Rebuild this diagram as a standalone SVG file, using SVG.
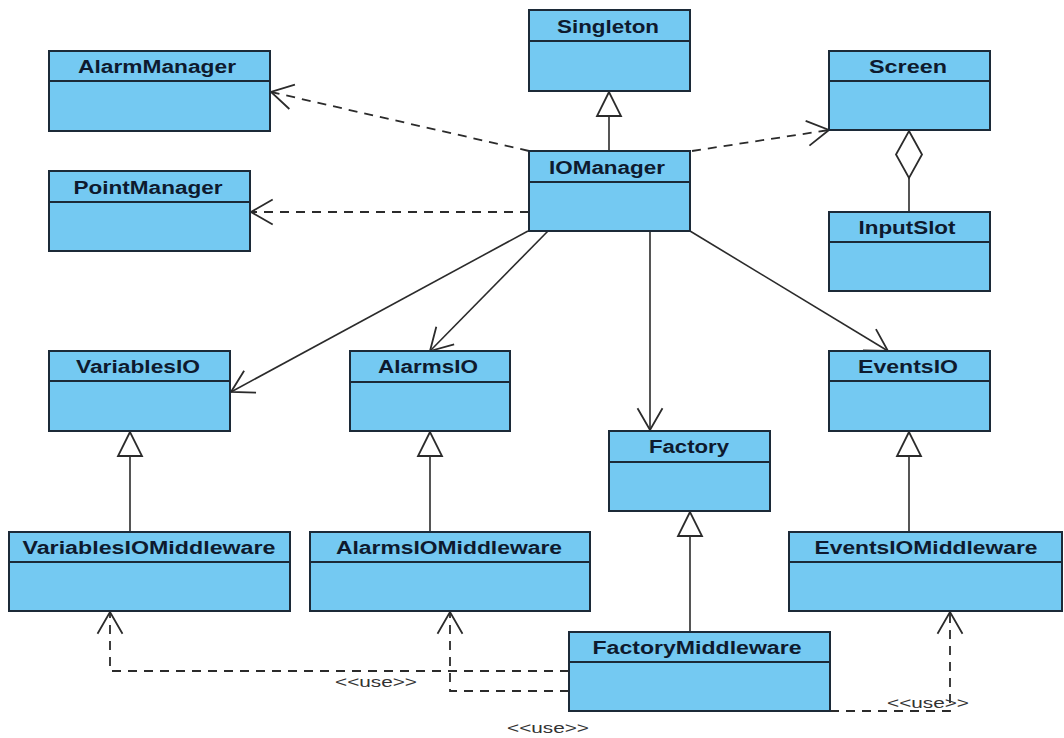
<svg xmlns="http://www.w3.org/2000/svg" width="1064" height="738" viewBox="0 0 1064 738">
  <style>
    .box { fill: #74c9f2; stroke: #1c2a38; stroke-width: 2; }
    .div { stroke: #1c2a38; stroke-width: 2; }
    .name { font-family: "Liberation Sans", Arial, sans-serif; font-weight: bold; font-size: 18px; fill: #0e1a2e; text-anchor: middle; }
    .solid { fill: none; stroke: #2b2b2b; stroke-width: 1.6; }
    .dash { fill: none; stroke: #2b2b2b; stroke-width: 1.8; stroke-dasharray: 9 7; }
    .stereo { font-family: "Liberation Sans", Arial, sans-serif; font-size: 15px; fill: #333; }
  </style>
  <defs>
    <!-- open arrowhead for associations and dependencies -->
    <marker id="open" markerUnits="userSpaceOnUse" viewBox="-26 -15 28 30" refX="0" refY="0" markerWidth="28" markerHeight="30" orient="auto" overflow="visible">
      <path d="M-21.7 -12.5 L0 0 L-21.7 12.5" fill="none" stroke="#2b2b2b" stroke-width="1.8"/>
    </marker>
    <!-- hollow triangle for generalization -->
    <marker id="gen" markerUnits="userSpaceOnUse" viewBox="-26 -14 28 28" refX="0" refY="0" markerWidth="28" markerHeight="28" orient="auto" overflow="visible">
      <path d="M0 0 L-24 -12 L-24 12 Z" fill="#fff" stroke="#2b2b2b" stroke-width="1.8"/>
    </marker>
    <!-- hollow diamond for aggregation -->
    <marker id="agg" markerUnits="userSpaceOnUse" viewBox="-2 -15 50 30" refX="0" refY="0" markerWidth="50" markerHeight="30" orient="auto" overflow="visible">
      <path d="M0 0 L23.5 -13 L47 0 L23.5 13 Z" fill="#fff" stroke="#2b2b2b" stroke-width="1.8"/>
    </marker>
  </defs>

  <!-- connectors -->
  <g id="connectors">
    <!-- generalizations -->
    <path class="solid" d="M609 151 L609 92" marker-end="url(#gen)"/>
    <path class="solid" d="M130 532 L130 432" marker-end="url(#gen)"/>
    <path class="solid" d="M430 532 L430 432" marker-end="url(#gen)"/>
    <path class="solid" d="M690 632 L690 512" marker-end="url(#gen)"/>
    <path class="solid" d="M909 532 L909 432" marker-end="url(#gen)"/>
    <!-- aggregation Screen <>- InputSlot -->
    <path class="solid" d="M909 131 L909 212" marker-start="url(#agg)"/>
    <!-- associations from IOManager -->
    <path class="solid" d="M528 231 L231 392" marker-end="url(#open)"/>
    <path class="solid" d="M548 231 L430 351" marker-end="url(#open)"/>
    <path class="solid" d="M650 231 L650 430" marker-end="url(#open)"/>
    <path class="solid" d="M690 231 L888 351" marker-end="url(#open)"/>
    <!-- dependencies from IOManager -->
    <path class="dash" d="M529 151 L271 92" marker-end="url(#open)"/>
    <path class="dash" d="M529 212 L251 212" marker-end="url(#open)"/>
    <path class="dash" d="M692 151 L829 130" marker-end="url(#open)"/>
    <!-- use dependencies from FactoryMiddleware -->
    <path class="dash" d="M569 671 L110 671 L110 612" marker-end="url(#open)"/>
    <path class="dash" d="M569 691 L450 691 L450 612" marker-end="url(#open)"/>
    <path class="dash" d="M830 711 L950 711 L950 612" marker-end="url(#open)"/>
    <text class="stereo" x="335" y="687" textLength="82" lengthAdjust="spacingAndGlyphs">&lt;&lt;use&gt;&gt;</text>
    <text class="stereo" x="507" y="733" textLength="82" lengthAdjust="spacingAndGlyphs">&lt;&lt;use&gt;&gt;</text>
    <text class="stereo" x="887" y="708" textLength="82" lengthAdjust="spacingAndGlyphs">&lt;&lt;use&gt;&gt;</text>
  </g>

  <!-- classes -->
  <g id="Singleton">
    <rect class="box" x="529" y="10" width="161" height="81"/>
    <line class="div" x1="529" y1="41" x2="690" y2="41"/>
    <text class="name" x="608" y="33" textLength="102" lengthAdjust="spacingAndGlyphs">Singleton</text>
  </g>
  <g id="AlarmManager">
    <rect class="box" x="49" y="51" width="221" height="80"/>
    <line class="div" x1="49" y1="81" x2="270" y2="81"/>
    <text class="name" x="157" y="73" textLength="158" lengthAdjust="spacingAndGlyphs">AlarmManager</text>
  </g>
  <g id="Screen">
    <rect class="box" x="829" y="51" width="161" height="79"/>
    <line class="div" x1="829" y1="81" x2="990" y2="81"/>
    <text class="name" x="908" y="73" textLength="78" lengthAdjust="spacingAndGlyphs">Screen</text>
  </g>
  <g id="IOManager">
    <rect class="box" x="529" y="151" width="161" height="80"/>
    <line class="div" x1="529" y1="182" x2="690" y2="182"/>
    <text class="name" x="607" y="174" textLength="116" lengthAdjust="spacingAndGlyphs">IOManager</text>
  </g>
  <g id="PointManager">
    <rect class="box" x="49" y="171" width="201" height="80"/>
    <line class="div" x1="49" y1="202" x2="250" y2="202"/>
    <text class="name" x="148" y="194" textLength="149" lengthAdjust="spacingAndGlyphs">PointManager</text>
  </g>
  <g id="InputSlot">
    <rect class="box" x="829" y="212" width="161" height="79"/>
    <line class="div" x1="829" y1="242" x2="990" y2="242"/>
    <text class="name" x="907" y="234" textLength="97" lengthAdjust="spacingAndGlyphs">InputSlot</text>
  </g>
  <g id="VariablesIO">
    <rect class="box" x="49" y="351" width="181" height="80"/>
    <line class="div" x1="49" y1="381" x2="230" y2="381"/>
    <text class="name" x="138" y="373" textLength="124" lengthAdjust="spacingAndGlyphs">VariablesIO</text>
  </g>
  <g id="AlarmsIO">
    <rect class="box" x="350" y="351" width="160" height="80"/>
    <line class="div" x1="350" y1="382" x2="510" y2="382"/>
    <text class="name" x="428" y="373" textLength="100" lengthAdjust="spacingAndGlyphs">AlarmsIO</text>
  </g>
  <g id="EventsIO">
    <rect class="box" x="829" y="351" width="161" height="80"/>
    <line class="div" x1="829" y1="381" x2="990" y2="381"/>
    <text class="name" x="908" y="373" textLength="100" lengthAdjust="spacingAndGlyphs">EventsIO</text>
  </g>
  <g id="Factory">
    <rect class="box" x="609" y="431" width="161" height="80"/>
    <line class="div" x1="609" y1="462" x2="770" y2="462"/>
    <text class="name" x="689" y="453" textLength="80" lengthAdjust="spacingAndGlyphs">Factory</text>
  </g>
  <g id="VariablesIOMiddleware">
    <rect class="box" x="9" y="532" width="281" height="79"/>
    <line class="div" x1="9" y1="562" x2="290" y2="562"/>
    <text class="name" x="149" y="554" textLength="253" lengthAdjust="spacingAndGlyphs">VariablesIOMiddleware</text>
  </g>
  <g id="AlarmsIOMiddleware">
    <rect class="box" x="310" y="532" width="280" height="79"/>
    <line class="div" x1="310" y1="562" x2="590" y2="562"/>
    <text class="name" x="449" y="554" textLength="226" lengthAdjust="spacingAndGlyphs">AlarmsIOMiddleware</text>
  </g>
  <g id="EventsIOMiddleware">
    <rect class="box" x="789" y="532" width="273" height="79"/>
    <line class="div" x1="789" y1="562" x2="1062" y2="562"/>
    <text class="name" x="926" y="554" textLength="223" lengthAdjust="spacingAndGlyphs">EventsIOMiddleware</text>
  </g>
  <g id="FactoryMiddleware">
    <rect class="box" x="569" y="632" width="261" height="79"/>
    <line class="div" x1="569" y1="662" x2="830" y2="662"/>
    <text class="name" x="697" y="654" textLength="209" lengthAdjust="spacingAndGlyphs">FactoryMiddleware</text>
  </g>
</svg>
